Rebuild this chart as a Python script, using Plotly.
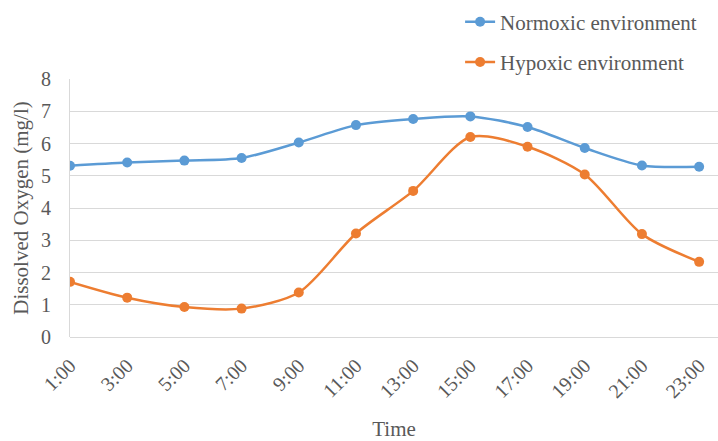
import plotly.graph_objects as go

times = ["1:00", "3:00", "5:00", "7:00", "9:00", "11:00", "13:00", "15:00",
         "17:00", "19:00", "21:00", "23:00"]
normoxic = [5.31, 5.41, 5.47, 5.55, 6.03, 6.57, 6.76, 6.84, 6.51, 5.86, 5.32, 5.28]
hypoxic = [1.71, 1.22, 0.93, 0.88, 1.38, 3.21, 4.53, 6.20, 5.90, 5.04, 3.19, 2.33]

FONT = "Liberation Serif, Times New Roman, serif"
TXT = "#595959"

fig = go.Figure()
fig.add_trace(go.Scatter(
    x=list(range(len(times))), y=normoxic, name="Normoxic environment",
    mode="lines+markers", line=dict(color="#5B9BD5", width=2.5, shape="spline", smoothing=0.8),
    marker=dict(size=10, color="#5B9BD5"), legendgroup="a"))
fig.add_trace(go.Scatter(
    x=list(range(len(times))), y=hypoxic, name="Hypoxic environment",
    mode="lines+markers", line=dict(color="#ED7D31", width=2.5, shape="spline", smoothing=0.8),
    marker=dict(size=10, color="#ED7D31"), legendgroup="b"))

fig.update_layout(
    width=718, height=441,
    margin=dict(l=70, r=0, t=79, b=104),
    paper_bgcolor="white", plot_bgcolor="white",
    font=dict(family=FONT, size=20, color=TXT),
    showlegend=True,
    legend=dict(x=0.602, xanchor="left", y=1.30, yanchor="top",
                font=dict(family=FONT, size=21, color=TXT),
                tracegroupgap=10, bgcolor="rgba(0,0,0,0)", itemwidth=30),
    xaxis=dict(
        tickmode="array", tickvals=list(range(len(times))), ticktext=times,
        range=[0, 11.33], tickangle=-45, showgrid=False, zeroline=False,
        showline=False, ticks="", ticklabelstandoff=12,
        tickfont=dict(family=FONT, size=20, color=TXT),
        title=dict(text="Time", font=dict(family=FONT, size=21, color=TXT), standoff=20)),
    yaxis=dict(
        range=[0, 8], dtick=1, showgrid=True, gridcolor="#D9D9D9", gridwidth=1,
        zeroline=True, zerolinecolor="#D9D9D9", zerolinewidth=1,
        showline=True, linecolor="#D9D9D9", ticks="", ticklabelstandoff=14,
        tickfont=dict(family=FONT, size=20, color=TXT),
        title=dict(text="Dissolved Oxygen (mg/l)", font=dict(family=FONT, size=21, color=TXT), standoff=6)),
)

fig.write_html("out.html")
